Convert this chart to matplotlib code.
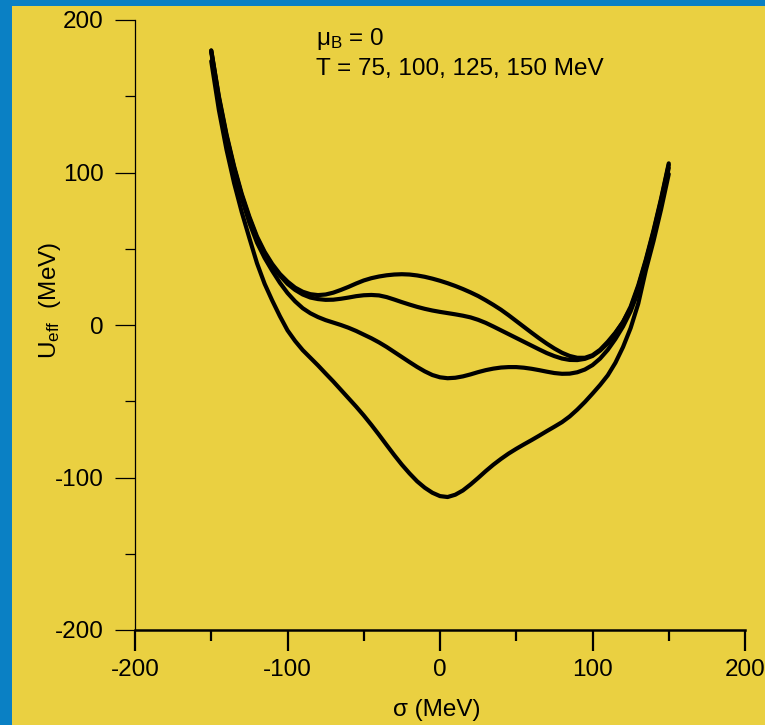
import matplotlib
matplotlib.use("Agg")
import matplotlib.pyplot as plt
from matplotlib.patches import Rectangle
from matplotlib.ticker import MultipleLocator

plt.rcParams['font.family'] = ['Liberation Sans', 'DejaVu Sans']
plt.rcParams['mathtext.fontset'] = 'custom'
plt.rcParams['mathtext.rm'] = 'Liberation Sans'
plt.rcParams['mathtext.it'] = 'Liberation Sans'

# sigma grid (MeV), 5 MeV steps
sigma = [-150, -145, -140, -135, -130, -125, -120, -115, -110, -105, -100, -95,
         -90, -85, -80, -75, -70, -65, -60, -55, -50, -45, -40, -35, -30, -25,
         -20, -15, -10, -5, 0, 5, 10, 15, 20, 25, 30, 35, 40, 45, 50, 55, 60,
         65, 70, 75, 80, 85, 90, 95, 100, 105, 110, 115, 120, 125, 130, 135,
         140, 145, 150]

# U_eff (MeV) for the four temperatures
u_T75 = [180, 150, 125, 104, 86, 71, 58, 48, 40, 33.5, 28.5, 24.5, 21.8, 20.2,
         19.6, 20, 21.2, 23, 25, 27.2, 29.2, 30.7, 31.8, 32.6, 33.1, 33.3, 33.1,
         32.5, 31.6, 30.4, 29, 27.4, 25.6, 23.6, 21.4, 19, 16.2, 13.2, 10, 6.4,
         2.6, -1.2, -5, -8.7, -12.2, -15.4, -18.2, -20.3, -21.5, -21.5, -19.8,
         -16.2, -11, -5, 2, 12, 26, 43, 62, 83, 106]
u_T100 = [180, 149, 124, 103, 85, 70, 57, 47, 39, 32.5, 27, 23, 20, 18, 17,
          16.5, 16.6, 17.2, 18, 18.9, 19.5, 19.7, 19.4, 18.3, 16.7, 15, 13.4,
          11.9, 10.6, 9.5, 8.6, 7.8, 7, 6.1, 5, 3.4, 1.4, -1, -3.5, -6, -8.5,
          -11, -13.5, -16, -18.4, -20.4, -22, -22.9, -23, -22.2, -20.3, -16.8,
          -12, -5.5, 2, 11, 25, 42, 61, 82, 105]
u_T125 = [179, 147, 122, 101, 83, 67, 54, 44, 35.5, 27.7, 21, 15.5, 11, 7.7,
          5.2, 3.2, 1.6, 0, -1.8, -3.9, -6.3, -8.7, -11.4, -14.4, -17.7, -21,
          -24.3, -27.5, -30.4, -32.8, -34.3, -34.9, -34.6, -33.7, -32.4, -30.9,
          -29.6, -28.6, -27.9, -27.6, -27.6, -28, -28.7, -29.6, -30.6, -31.5,
          -32, -31.9, -31, -29.2, -26.3, -22, -16.3, -9.2, -1, 9, 22, 39, 58,
          80, 103]
u_T150 = [173, 141, 115, 93, 74, 57, 40.5, 27, 16, 5.8, -3.5, -10.5, -16.5,
          -21.5, -26.5, -31.8, -37, -42.5, -48, -53.5, -59.3, -65.5, -72, -78.7,
          -85.3, -91.6, -97.3, -102.5, -106.7, -110, -112.2, -112.8, -111.3,
          -108.5, -104.6, -100.3, -95.8, -91.6, -87.8, -84.3, -81.2, -78.3,
          -75.5, -72.6, -69.6, -66.7, -63.7, -60, -55.5, -50.5, -45, -39.3, -33,
          -24.8, -14.5, -2, 14, 36, 55, 76, 99]

xticks = [-200, -100, 0, 100, 200]
yticks = [-200, -100, 0, 100, 200]

W, H = 765, 725
fig = plt.figure(figsize=(W / 100, H / 100), dpi=100)
fig.patch.set_facecolor('#0A80C4')
fig.patches.append(Rectangle((12 / W, 0), 1 - 12 / W, 1 - 6 / H,
                             transform=fig.transFigure, facecolor='#EAD041',
                             edgecolor='none', zorder=-10))

ax = fig.add_axes([135 / W, 95 / H, 610 / W, 610 / H])
ax.set_zorder(5)
ax.set_facecolor('none')

for u in (u_T75, u_T100, u_T125, u_T150):
    ax.plot(sigma, u, color='black', lw=3.0, solid_joinstyle='round',
            solid_capstyle='round')

ax.set_xlim(-200, 200)
ax.set_ylim(-200, 200)
ax.set_xticks(xticks)
ax.set_yticks(yticks)
ax.set_xticklabels([str(v) for v in xticks])
ax.set_yticklabels([str(v) for v in yticks])
ax.xaxis.set_minor_locator(MultipleLocator(50))
ax.yaxis.set_minor_locator(MultipleLocator(50))

for s in ('top', 'right'):
    ax.spines[s].set_visible(False)
ax.spines['left'].set_linewidth(0.9)
ax.spines['bottom'].set_linewidth(1.8)

ax.tick_params(axis='x', which='major', direction='out', length=15, width=1.6,
               labelsize=17.5, pad=6)
ax.tick_params(axis='x', which='minor', direction='out', length=8, width=1.6)
ax.tick_params(axis='y', which='major', direction='out', length=14.5, width=0.9,
               labelsize=17.5, pad=8)
ax.tick_params(axis='y', which='minor', direction='out', length=7.5, width=0.9)

ax.set_xlabel('σ (MeV)', fontsize=17.5)
ax.xaxis.set_label_coords(0.495, -0.131)
ax.xaxis.label.set_va('center')
ax.set_ylabel(r'U$_{\mathregular{eff}}$  (MeV)', fontsize=17.5)
ax.yaxis.set_label_coords(-0.139, 0.541)
ax.yaxis.label.set_va('center')

ax.text((316 - 135) / 610, (630 - 45) / 610, r'$\mathregular{\mu_B}$ = 0',
        transform=ax.transAxes, fontsize=17.5, ha='left', va='baseline')
ax.text((316 - 135) / 610, (630 - 75) / 610, 'T = 75, 100, 125, 150 MeV',
        transform=ax.transAxes, fontsize=17.5, ha='left', va='baseline')

fig.savefig('out.png', dpi=100, facecolor=fig.get_facecolor())
